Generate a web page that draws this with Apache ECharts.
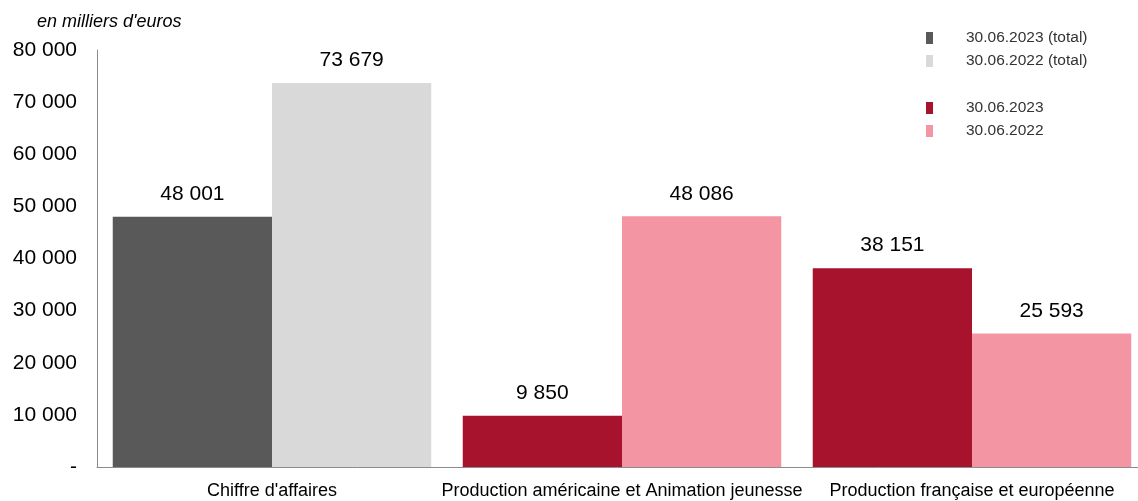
<!DOCTYPE html>
<html>
<head>
<meta charset="utf-8">
<script src="https://cdn.jsdelivr.net/npm/echarts@6/dist/echarts.min.js"></script>
<style>html,body{margin:0;padding:0;background:#fff}#c{width:1138px;height:501px}</style>
</head>
<body>
<div id="c"></div>
<script>
var categories = ["Chiffre d'affaires", "Production américaine et Animation jeunesse", "Production française et européenne"];
var total2023 = [48001, '-', '-'];
var total2022 = [73679, '-', '-'];
var seg2023 = ['-', 9850, 38151];
var seg2022 = ['-', 48086, 25593];
var yTicks = [0, 10000, 20000, 30000, 40000, 50000, 60000, 70000, 80000];

function fmt(v) {
  if (v === 0) return '-';
  return String(Math.round(v)).replace(/\B(?=(\d{3})+(?!\d))/g, ' ');
}
var FONT = 'Liberation Sans, Arial, sans-serif';
var lbl = {show: true, position: 'top', distance: 12, fontSize: 21, color: '#000', fontFamily: FONT,
  formatter: function (p) { return fmt(p.value); }};
var legendText = {fontSize: 15.5, color: '#333', fontFamily: FONT,
  rich: {a: {fontSize: 15.5, color: '#333', fontFamily: FONT, padding: [0, 0, 0, 28]}}};

var chart = echarts.init(document.getElementById('c'));
chart.setOption({
  animation: false,
  title: {text: "en milliers d'euros", left: 32, top: 8,
    textStyle: {fontSize: 18, fontStyle: 'italic', fontWeight: 'normal', color: '#000', fontFamily: FONT}},
  legend: [
    {data: ['30.06.2023 (total)', '30.06.2022 (total)'], orient: 'vertical', left: 921, top: 25,
      itemWidth: 7, itemHeight: 12, itemGap: 7, icon: 'rect', formatter: '{a|{name}}', textStyle: legendText},
    {data: ['30.06.2023', '30.06.2022'], orient: 'vertical', left: 921, top: 95,
      itemWidth: 7, itemHeight: 12, itemGap: 7, icon: 'rect', formatter: '{a|{name}}', textStyle: legendText}
  ],
  grid: {left: 97, width: 1050, top: 50, bottom: 34, containLabel: false, outerBoundsMode: 'none'},
  xAxis: {type: 'category', data: categories,
    axisLine: {lineStyle: {color: '#8c8c8c', width: 1}}, axisTick: {show: false},
    axisLabel: {interval: 0, fontSize: 18, color: '#000', margin: 15, fontFamily: FONT}},
  yAxis: {type: 'value', min: 0, max: 80000, interval: 10000,
    axisLine: {show: true, lineStyle: {color: '#8c8c8c', width: 1}}, axisTick: {show: false},
    splitLine: {show: false},
    axisLabel: {fontSize: 21, color: '#000', margin: 20, fontFamily: FONT, formatter: fmt}},
  series: [
    {name: '30.06.2023 (total)', type: 'bar', stack: 'a', data: total2023, itemStyle: {color: '#595959'}, label: lbl},
    {name: '30.06.2022 (total)', type: 'bar', stack: 'b', data: total2022, itemStyle: {color: '#d9d9d9'}, label: lbl},
    {name: '30.06.2023', type: 'bar', stack: 'a', data: seg2023, itemStyle: {color: '#a7132d'}, label: lbl},
    {name: '30.06.2022', type: 'bar', stack: 'b', data: seg2022, itemStyle: {color: '#f495a4'}, label: lbl,
      barGap: '0%', barCategoryGap: '9%'}
  ]
});
</script>
</body>
</html>
